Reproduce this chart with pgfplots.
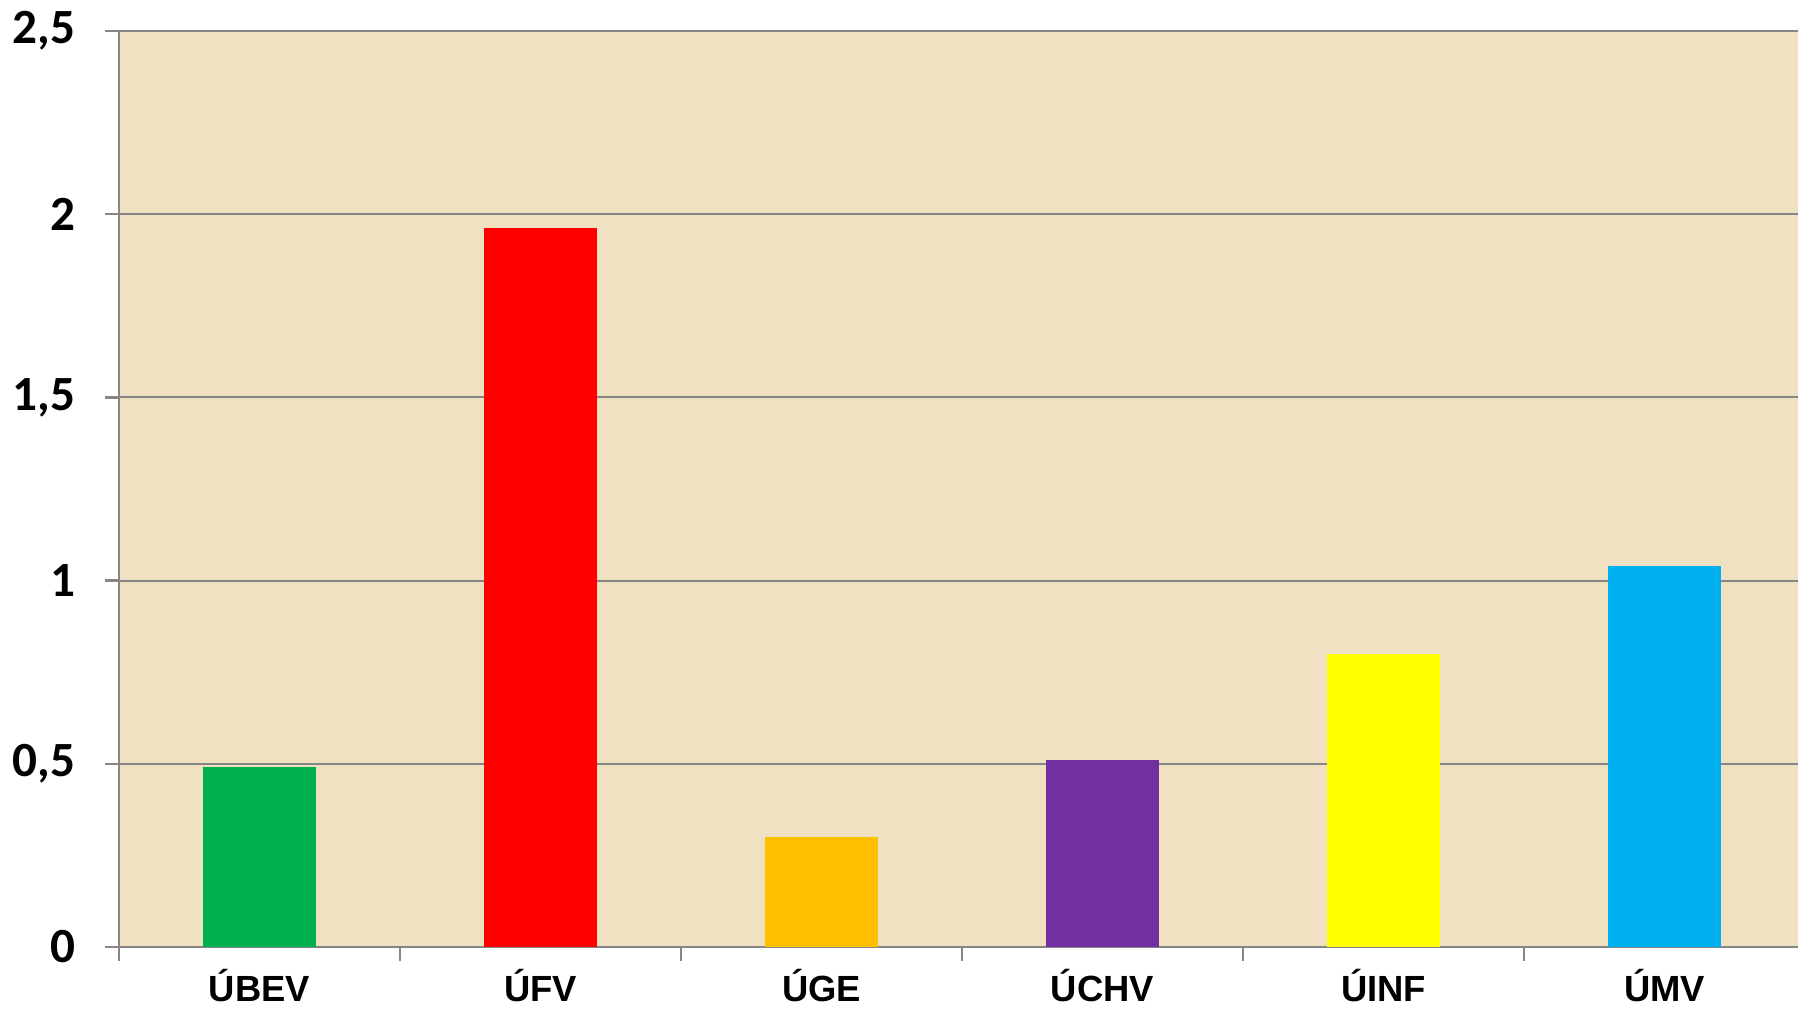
\documentclass[border=0pt]{standalone}
\usepackage{fontspec}
\setmainfont{Liberation Sans}
\newfontfamily\carlito{Carlito}
\usepackage{pgfplots}
\pgfplotsset{compat=1.18}
\definecolor{bg}{RGB}{240,225,194}
\definecolor{axgray}{RGB}{134,134,134}
\definecolor{cgreen}{RGB}{0,176,80}
\definecolor{cred}{RGB}{255,0,0}
\definecolor{corange}{RGB}{255,192,0}
\definecolor{cpurple}{RGB}{112,48,160}
\definecolor{cyellow}{RGB}{255,255,0}
\definecolor{cblue}{RGB}{0,176,240}
\begin{document}
\begin{tikzpicture}[x=1bp,y=1bp]
\useasboundingbox (0,0) rectangle (449.5,252.25);
\begin{axis}[
  at={(29.75bp,15.5bp)}, anchor=south west,
  scale only axis, width=421.5bp, height=229bp,
  xmin=-0.5, xmax=5.5, ymin=0, ymax=2.5,
  ybar, bar width=0.4, bar shift=0pt,
  axis background/.style={fill=bg},
  axis x line*=bottom, axis y line*=left,
  axis line style={-, draw=axgray, line width=0.6bp},
  ymajorgrids, grid style={draw=axgray, line width=0.5bp},
  tick align=outside, major tick length=3.5bp,
  tick style={draw=axgray, line width=0.6bp},
  ytick={0,0.5,1,1.5,2,2.5},
  /pgf/number format/use comma,
  /pgf/number format/assume math mode=true,
  yticklabel style={font=\carlito\bfseries\fontsize{12.3bp}{14bp}\selectfont, anchor=east, inner sep=0pt, xshift=-7.3bp},
  xtick={-0.5,0.5,1.5,2.5,3.5,4.5,5.5}, xticklabels={},
  extra x ticks={0,1,2,3,4,5},
  extra x tick labels={ÚBEV,ÚFV,ÚGE,ÚCHV,ÚINF,ÚMV},
  extra x tick style={major tick length=0pt, grid=none,
    xticklabel style={font=\bfseries\fontsize{9.1bp}{11bp}\selectfont, anchor=base, inner sep=0pt, yshift=-13.7bp}},
  clip=false,
]
\addplot[fill=cgreen, draw=none] coordinates {(0,0.491)};
\addplot[fill=cred, draw=none] coordinates {(1,1.962)};
\addplot[fill=corange, draw=none] coordinates {(2,0.300)};
\addplot[fill=cpurple, draw=none] coordinates {(3,0.510)};
\addplot[fill=cyellow, draw=none] coordinates {(4,0.801)};
\addplot[fill=cblue, draw=none] coordinates {(5,1.039)};
\end{axis}
\end{tikzpicture}
\end{document}
